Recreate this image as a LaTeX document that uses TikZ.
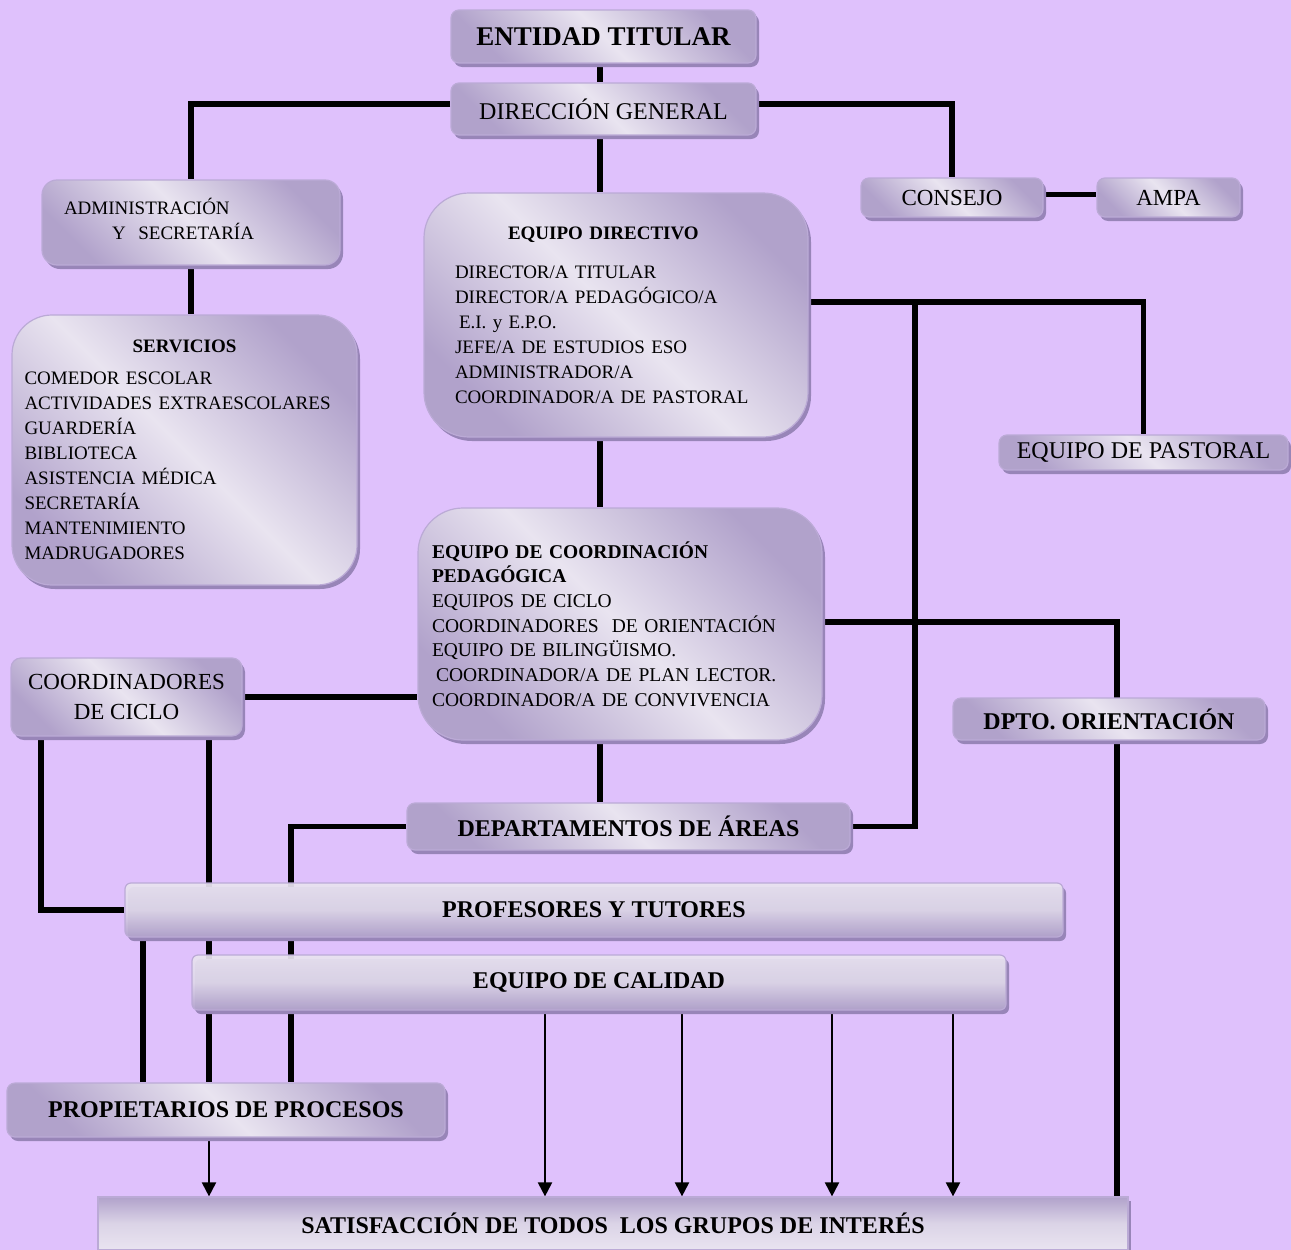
\documentclass[tikz,border=0pt]{standalone}
\usepackage{fontspec}
\setmainfont{Liberation Serif}
\usetikzlibrary{arrows.meta,shadows}
\definecolor{bgc}{HTML}{DFC1FC}
\definecolor{lightc}{HTML}{E9E4F0}
\definecolor{darkc}{HTML}{B1A2CB}
\definecolor{edgec}{HTML}{BBAAD6}
\definecolor{shadc}{HTML}{9885B8}
\pgfdeclarelayer{bglayer}
\pgfsetlayers{bglayer,main}
\tikzset{
  base/.style={draw=edgec, line width=1.2pt, inner sep=0pt, align=center, text=black, text opacity=1,
     drop shadow={shadow xshift=3pt, shadow yshift=-4pt, fill=shadc, opacity=1}},
  box/.style={base, rounded corners=8pt, top color=darkc, bottom color=darkc, middle color=lightc, shading angle=-45},
  bigbox/.style={box, rounded corners=40pt},
  bar/.style={base, rounded corners=6pt, top color=lightc, bottom color=darkc, middle color=lightc!80!darkc, shading angle=0, fill opacity=0.93},
  satbar/.style={base, rounded corners=0pt, top color=darkc, bottom color=lightc, middle color=lightc!75!darkc, shading angle=0},
  conn/.style={line width=5.5pt, black},
  arr/.style={line width=2pt, black, -{Triangle[width=14pt,length=14pt]}},
  bigf/.style={font=\fontsize{24}{28}\selectfont},
  bigb/.style={font=\fontsize{24}{28}\selectfont\bfseries},
  smallf/.style={font=\fontsize{19}{25}\selectfont},
}
\begin{document}
\begin{tikzpicture}[x=1pt,y=-1pt]
\useasboundingbox (0,0) rectangle (1291,1250);
% nodes
\node[box, minimum width=305pt, minimum height=53pt, font=\fontsize{27}{30}\selectfont\bfseries] (et) at (603.5,36.5) {ENTIDAD TITULAR};
\node[box, bigf, minimum width=305pt, minimum height=52pt] (dg) at (603.5,109) {DIRECCIÓN GENERAL};
\node[box, smallf, rounded corners=15pt, minimum width=298pt, minimum height=85pt, text width=254pt, align=left] (adm) at (191,222.5)
  {ADMINISTRACIÓN\\\hspace*{48pt}Y\ \ SECRETARÍA\rule[-8pt]{0pt}{0pt}};
\node[bigbox, smallf, minimum width=345pt, minimum height=270pt, text width=320pt, align=left] (serv) at (184.5,450)
  {\makebox[320pt]{\bfseries SERVICIOS}\\[7pt]
   COMEDOR ESCOLAR\\ACTIVIDADES EXTRAESCOLARES\\GUARDERÍA\\BIBLIOTECA\\ASISTENCIA MÉDICA\\SECRETARÍA\\MANTENIMIENTO\\MADRUGADORES};
\node[box, font=\fontsize{23}{27}\selectfont, minimum width=182pt, minimum height=39pt] (consejo) at (952,197.5) {CONSEJO};
\node[box, font=\fontsize{23}{27}\selectfont, minimum width=143pt, minimum height=39pt] (ampa) at (1168.5,197.5) {AMPA};
\node[bigbox, smallf, rounded corners=45pt, minimum width=384pt, minimum height=244pt, text width=322pt, align=left] (ed) at (616,315)
  {\hspace*{53pt}\textbf{EQUIPO DIRECTIVO}\\[14pt]
   DIRECTOR/A TITULAR\\DIRECTOR/A PEDAGÓGICO/A\\\hspace*{4pt}E.I. y E.P.O.\\JEFE/A DE ESTUDIOS ESO\\ADMINISTRADOR/A\\COORDINADOR/A DE PASTORAL};
\node[box, bigf, minimum width=289pt, minimum height=35pt] (pastoral) at (1143.5,452.5) {\raisebox{-2pt}{EQUIPO DE PASTORAL}};
\node[bigbox, font=\fontsize{19.5}{24.7}\selectfont, rounded corners=45pt, minimum width=404pt, minimum height=232pt, text width=376pt, align=left] (ecp) at (620,624)
  {\textbf{EQUIPO DE COORDINACIÓN}\\\textbf{PEDAGÓGICA}\\EQUIPOS DE CICLO\\COORDINADORES\ \ DE ORIENTACIÓN\\EQUIPO DE BILINGÜISMO.\\\hspace*{4pt}COORDINADOR/A DE PLAN LECTOR.\\COORDINADOR/A DE CONVIVENCIA};
\node[box, bigb, minimum width=312pt, minimum height=42pt] (dpto) at (1109,719) {DPTO. ORIENTACIÓN};
\node[box, font=\fontsize{23}{30}\selectfont, rounded corners=10pt, minimum width=231pt, minimum height=78pt] (cc) at (126.5,697) {COORDINADORES\\DE CICLO};
\node[box, bigb, minimum width=443pt, minimum height=47pt] (dept) at (628.5,826.5) {DEPARTAMENTOS DE ÁREAS};
\node[bar, bigb, minimum width=938pt, minimum height=54pt] (pro) at (594,910) {PROFESORES Y TUTORES};
\node[bar, bigb, minimum width=814pt, minimum height=55pt] (cal) at (599,982.5) {EQUIPO DE CALIDAD};
\node[box, bigb, minimum width=438pt, minimum height=54pt] (prop) at (226,1110) {PROPIETARIOS DE PROCESOS};
\node[satbar, bigb, minimum width=1030pt, minimum height=53pt] (sat) at (613,1223.5) {SATISFACCIÓN DE TODOS\ \ LOS GRUPOS DE INTERÉS};
% helper coordinates
\coordinate (sp) at (600,0);
\coordinate (xb) at (915,0);
\coordinate (xc) at (1117,0);
\coordinate (x41) at (41,0);
\coordinate (x143) at (143,0);
\coordinate (x209) at (209,0);
\coordinate (x291) at (291,0);
\begin{pgfonlayer}{bglayer}
\fill[bgc] (0,0) rectangle (1291,1250);
\draw[conn] (et.south -| sp) -- (dg.north -| sp);
\draw[conn] ([yshift=5pt]dg.west) -| (adm.north);
\draw[conn] ([yshift=5pt]dg.east) -| (consejo.north);
\draw[conn] (dg.south -| sp) -- (ed.north -| sp);
\draw[conn] ([yshift=3pt]consejo.east) -- ([yshift=3pt]ampa.west);
\draw[conn] (adm.south) -- (adm.south |- serv.north);
\draw[conn] ([yshift=13pt]ed.east) -| (pastoral.north);
\draw[conn] (dept.east) -| ([yshift=13pt]ed.east -| xb);
\draw[conn] (ed.south -| sp) -- (ecp.north -| sp);
\draw[conn] ([yshift=2pt]ecp.east) -| (sat.north -| xc);
\draw[conn] (cc.east) -- (cc.east -| ecp.west);
\draw[conn] (cc.south -| x41) |- (pro.west);
\draw[conn] (cc.south -| x209) -- (prop.north -| x209);
\draw[conn] (ecp.south -| sp) -- (dept.north -| sp);
\draw[conn] (dept.west) -| (prop.north -| x291);
\draw[conn] (pro.south -| x143) -- (prop.north -| x143);
\draw[arr] ([yshift=-3pt]prop.south -| x209) -- (sat.north -| x209);
\foreach \xx in {545,682,832,953}{
  \draw[arr] ([yshift=-1pt]cal.south -| \xx,0) -- (sat.north -| \xx,0);
}
\end{pgfonlayer}
\end{tikzpicture}
\end{document}
